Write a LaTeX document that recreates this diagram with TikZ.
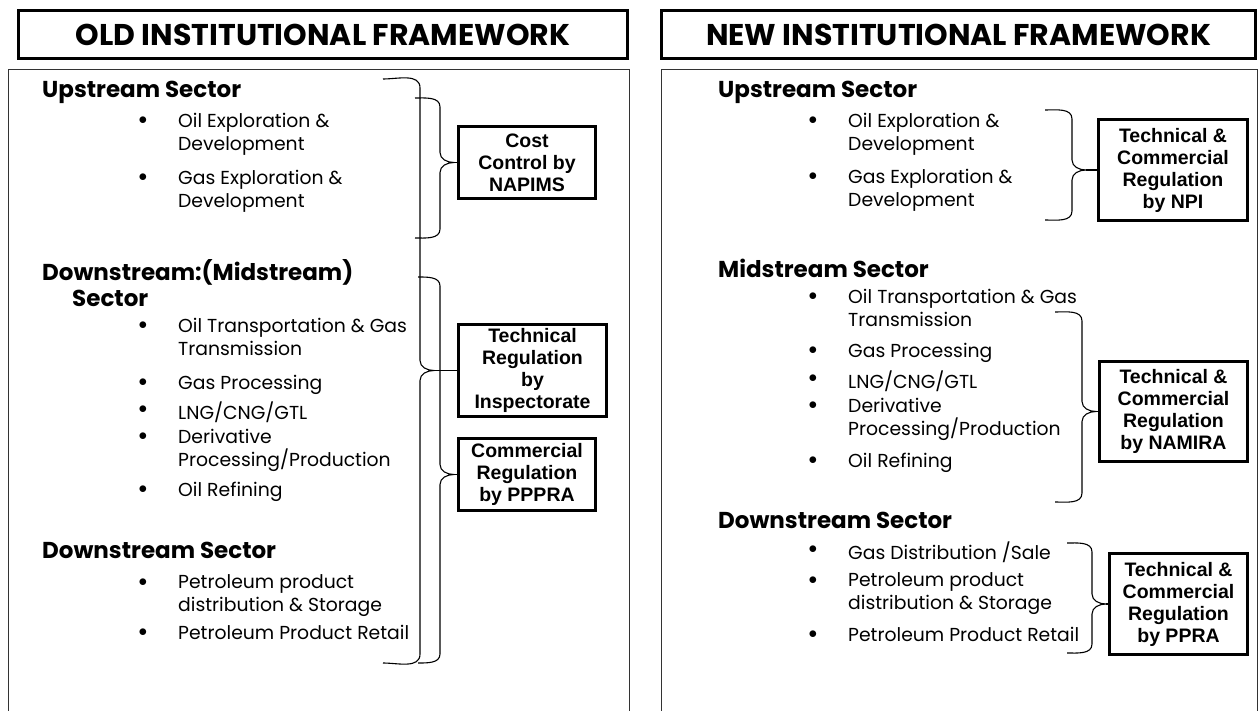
\documentclass[tikz,border=0pt]{standalone}
\usepackage{fontspec}
\setmainfont{Poppins}
\newfontfamily\boxfont{Liberation Sans}
\usetikzlibrary{calc}
\definecolor{Ink}{HTML}{000000}
\definecolor{Frame}{HTML}{333333}
\tikzset{
  titlebox/.style={draw=Ink, line width=3pt, minimum height=48, inner sep=0,
    font=\fontsize{30}{34}\selectfont\bfseries},
  regbox/.style={draw=Ink, line width=3.2pt, fill=white, align=center, inner sep=0,
    font=\fontsize{19.5}{22}\selectfont\boxfont\bfseries},
  panel/.style={draw=Frame, line width=0.9pt},
  bracel/.style={draw=Ink, line width=1.1pt},
}
% one bullet point: name, bullet x, first line y, text
\newcommand{\bitem}[4]{%
  \node[bul] (#1d) at (#2,#3+1) {$\bullet$};
  \node[itemtext, anchor=north west] (#1) at (#2+35,#3-7.5) {#4};
}
% curly bracket from the list to its box: arm x, spine x, top y, bottom y, box
\newcommand{\regbrace}[5]{%
  \coordinate (sp) at (#2,0);
  \draw[bracel] (#1,#3) to[out=0,in=90] (#2,#3+9)
    -- ($(sp |- #5.west)+(0,-10)$) to[out=-90,in=180] ($(sp |- #5.west)+(14,0)$)
    to[out=180,in=90] ($(sp |- #5.west)+(0,10)$)
    -- (#2,#4-9) to[out=-90,in=0] (#1,#4);
  \draw[bracel] ($(sp |- #5.west)+(14,0)$) -- (#5.west);
}

\begin{document}
\begin{tikzpicture}[x=1pt, y=-1pt,
  sechead/.style={anchor=north west, inner sep=0, align=left,
    font=\fontsize{23}{26}\selectfont\bfseries},
  itemtext/.style={inner sep=0, align=left, font=\fontsize{18.8}{23}\selectfont},
  bul/.style={inner sep=0, font=\fontsize{18}{23}\selectfont},
]
  \useasboundingbox (0,0) rectangle (1259,711);

  % frames
  \node[titlebox, minimum width=609] (toldf) at (323,34.5) {OLD INSTITUTIONAL FRAMEWORK};
  \node[titlebox, minimum width=594] (tnewf) at (958.5,34.5) {NEW INSTITUTIONAL FRAMEWORK};
  \draw[panel] (8,720) -- (8,69) -- (629,69) -- (629,720);
  \draw[panel] (661,720) -- (661,69) -- (1257,69) -- (1257,720);

  % old framework
  \node[sechead] (lup) at (42,81) {Upstream Sector};
  \bitem{l1}{143}{120}{Oil Exploration \&\\Development}
  \bitem{l2}{143}{177}{Gas Exploration \&\\Development}
  \node[sechead] (lmid) at (42,259) {Downstream:(Midstream)\\\hspace*{30pt}Sector};
  \bitem{l3}{143}{325}{Oil Transportation \& Gas\\Transmission}
  \bitem{l4}{143}{382}{Gas Processing}
  \bitem{l5}{143}{409}{LNG/CNG/GTL}
  \bitem{l6}{143}{436}{Derivative\\Processing/Production}
  \bitem{l7}{143}{489}{Oil Refining}
  \node[sechead] (ldown) at (42,542) {Downstream Sector};
  \bitem{l8}{143}{582}{Petroleum product\\distribution \& Storage}
  \bitem{l9}{143}{632}{Petroleum Product Retail}

  \node[regbox, minimum width=137, minimum height=72] (ncost) at (527,162.5) {Cost\\Control by\\NAPIMS};
  \node[regbox, minimum width=148, minimum height=92] (ninsp) at (532.5,370.5) {Technical\\Regulation\\by\\Inspectorate};
  \node[regbox, minimum width=137, minimum height=72] (npppra) at (527,474.5) {Commercial\\Regulation\\by PPPRA};

  \regbrace{383}{420}{79}{663}{ninsp}
  \regbrace{415}{440}{98}{238}{ncost}
  \regbrace{418}{440}{277}{663}{npppra}

  % new framework
  \node[sechead] (rup) at (718,81) {Upstream Sector};
  \bitem{r1}{813}{120}{Oil Exploration \&\\Development}
  \bitem{r2}{813}{176}{Gas Exploration \&\\Development}
  \node[sechead] (rmid) at (718,259) {Midstream Sector};
  \bitem{r3}{813}{296}{Oil Transportation \& Gas\\Transmission}
  \bitem{r4}{813}{350}{Gas Processing}
  \bitem{r5}{813}{378}{LNG/CNG/GTL}
  \bitem{r6}{813}{405}{Derivative\\Processing/Production}
  \bitem{r7}{813}{460}{Oil Refining}
  \node[sechead] (rdown) at (718,512) {Downstream Sector};
  \bitem{r8}{813}{549}{Gas Distribution /Sale}
  \bitem{r9}{813}{580}{Petroleum product\\distribution \& Storage}
  \bitem{r10}{813}{634}{Petroleum Product Retail}

  \node[regbox, minimum width=149, minimum height=101] (nnpi) at (1173,170) {Technical \&\\Commercial\\Regulation\\by NPI};
  \node[regbox, minimum width=148, minimum height=100] (nnam) at (1173.5,411.5) {Technical \&\\Commercial\\Regulation\\by NAMIRA};
  \node[regbox, minimum width=138, minimum height=101] (nppra) at (1178.5,604) {Technical \&\\Commercial\\Regulation\\by PPRA};

  \regbrace{1045}{1072}{110}{220}{nnpi}
  \regbrace{1055}{1082}{312}{502}{nnam}
  \regbrace{1067}{1092}{543}{653}{nppra}
\end{tikzpicture}
\end{document}
